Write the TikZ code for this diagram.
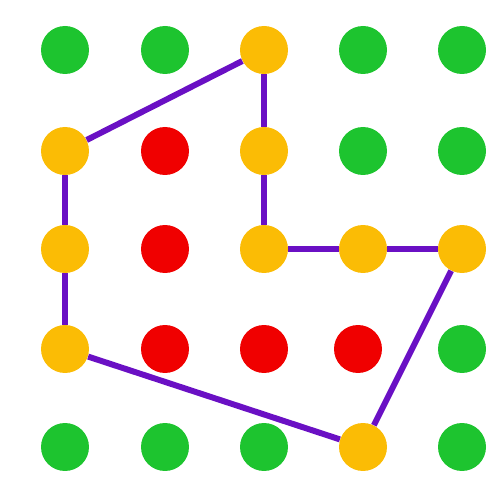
\documentclass[tikz,border=0pt]{standalone}
\definecolor{dotgreen}{HTML}{1DC42F}
\definecolor{dotred}{HTML}{F00000}
\definecolor{dotorange}{HTML}{FBBC05}
\definecolor{pathpurple}{HTML}{6A10C4}
\begin{document}
\begin{tikzpicture}[x=0.02cm,y=-0.02cm,
  dot/.style={circle,inner sep=0pt,minimum size=0.96cm},
  g/.style={dot,fill=dotgreen},
  r/.style={dot,fill=dotred},
  o/.style={dot,fill=dotorange},
  link/.style={draw=pathpurple,line width=3.4pt}]
\useasboundingbox (0,0) rectangle (500,482);
% row 0
\node[g] (a00) at (65,50) {};
\node[g] (a01) at (165,50) {};
\node[o] (a02) at (264,50) {};
\node[g] (a03) at (363,50) {};
\node[g] (a04) at (462,50) {};
% row 1
\node[o] (a10) at (65,151) {};
\node[r] (a11) at (165,151) {};
\node[o] (a12) at (264,151) {};
\node[g] (a13) at (363,151) {};
\node[g] (a14) at (462,151) {};
% row 2
\node[o] (a20) at (65,249) {};
\node[r] (a21) at (165,249) {};
\node[o] (a22) at (264,249) {};
\node[o] (a23) at (363,249) {};
\node[o] (a24) at (462,249) {};
% row 3
\node[o] (a30) at (65,349) {};
\node[r] (a31) at (165,349) {};
\node[r] (a32) at (264,349) {};
\node[r] (a33) at (358,349) {};
\node[g] (a34) at (462,349) {};
% row 4
\node[g] (a40) at (65,447) {};
\node[g] (a41) at (165,447) {};
\node[g] (a42) at (264,447) {};
\node[o] (a43) at (363,447) {};
\node[g] (a44) at (462,447) {};
% path
\draw[link] (a02) -- (a10);
\draw[link] (a10) -- (a20);
\draw[link] (a20) -- (a30);
\draw[link] (a30) -- (a43);
\draw[link] (a43) -- (a24);
\draw[link] (a24) -- (a23);
\draw[link] (a23) -- (a22);
\draw[link] (a22) -- (a12);
\draw[link] (a12) -- (a02);
\end{tikzpicture}
\end{document}
